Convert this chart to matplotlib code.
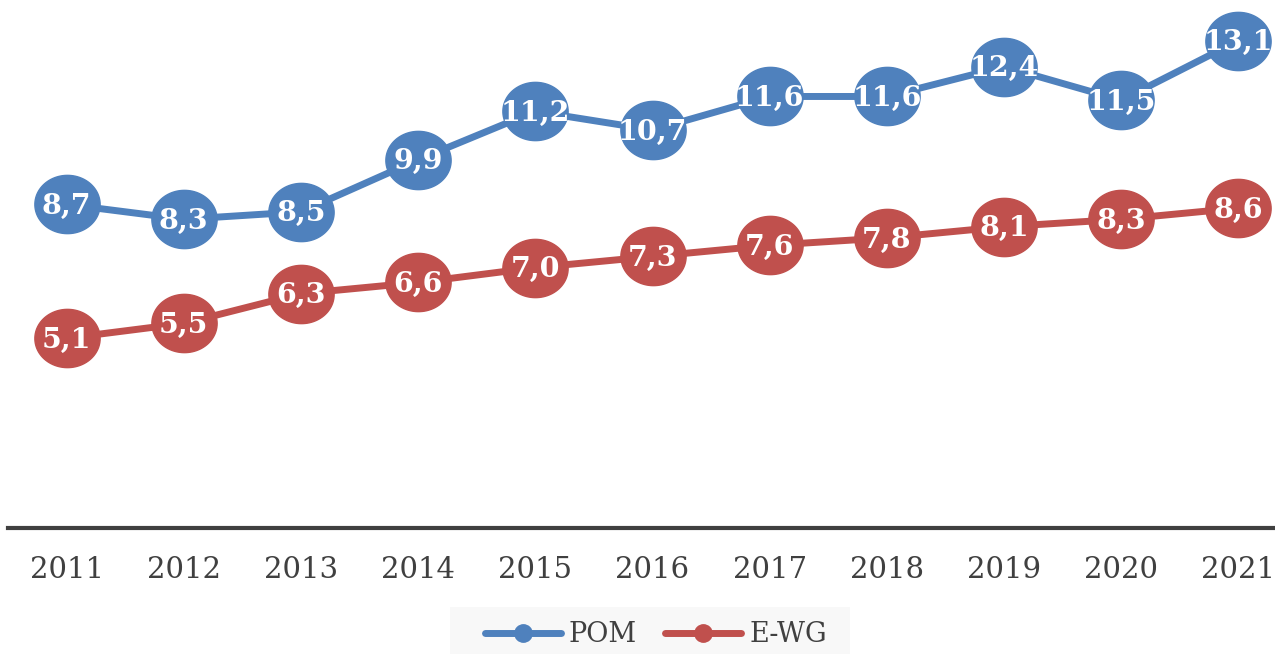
import matplotlib
matplotlib.use("Agg")
import matplotlib.pyplot as plt
import numpy as np
from matplotlib.path import Path
from matplotlib.patches import Rectangle

years = ["2011", "2012", "2013", "2014", "2015", "2016", "2017", "2018", "2019", "2020", "2021"]
pom = [8.7, 8.3, 8.5, 9.9, 11.2, 10.7, 11.6, 11.6, 12.4, 11.5, 13.1]
ewg = [5.1, 5.5, 6.3, 6.6, 7.0, 7.3, 7.6, 7.8, 8.1, 8.3, 8.6]
series_names = ["POM", "E-WG"]

BLUE = "#4F81BD"
RED = "#C0504D"
GRAY = "#404040"

W, H = 1275, 654
fig = plt.figure(figsize=(W / 100, H / 100), dpi=100)
ax = fig.add_axes([8 / W, 1 - 528 / H, 1289 / W, 528 / H])

# elliptical marker
t = np.linspace(0, 2 * np.pi, 100)
ell = Path(np.column_stack([1.12 * np.cos(t), np.sin(t)]), closed=True)

LBL_SIZE = 20.5
x = np.arange(len(years))
for vals, col in [(pom, BLUE), (ewg, RED)]:
    ax.plot(x, vals, color=col, lw=5, marker=ell, ms=47, mec=col, mfc=col,
            solid_capstyle="round", zorder=3, clip_on=False)
    for xi, v in zip(x, vals):
        ax.annotate(f"{v:.1f}".replace(".", ","), (xi, v), xytext=(0, -0.34 * LBL_SIZE),
                    textcoords="offset points", ha="center", va="baseline",
                    color="white", fontsize=LBL_SIZE, fontweight="bold",
                    family="DejaVu Serif", zorder=4, annotation_clip=False)

ax.set_xlim(-0.5, 10.5)
ax.set_ylim(0, 528 / 37.2)
for s in ["top", "right", "left"]:
    ax.spines[s].set_visible(False)
ax.spines["bottom"].set_color(GRAY)
ax.spines["bottom"].set_linewidth(3)
ax.set_yticks([])
ax.set_xticks(x)
ax.set_xticklabels(years, family="DejaVu Serif", fontsize=21, color=GRAY)
ax.tick_params(axis="x", length=0, pad=20)

# legend background
fig.patches.append(Rectangle((450 / W, 0), 400 / W, 47 / H, transform=fig.transFigure,
                             facecolor="#F8F8F8", edgecolor="none", zorder=0))
h1, = ax.plot([], [], color=BLUE, lw=5, marker="o", ms=12.5, solid_capstyle="round")
h2, = ax.plot([], [], color=RED, lw=5, marker="o", ms=12.5, solid_capstyle="round")
leg = fig.legend([h1, h2], series_names, loc="center", bbox_to_anchor=(656 / W, 1 - 635 / H),
                 ncol=2, frameon=False,
                 prop={"family": "DejaVu Serif", "size": 19.5}, handlelength=2.8,
                 columnspacing=1.05, handletextpad=0.3, borderpad=0,
                 borderaxespad=0, labelcolor=GRAY)

fig.savefig("out.png", dpi=100)
